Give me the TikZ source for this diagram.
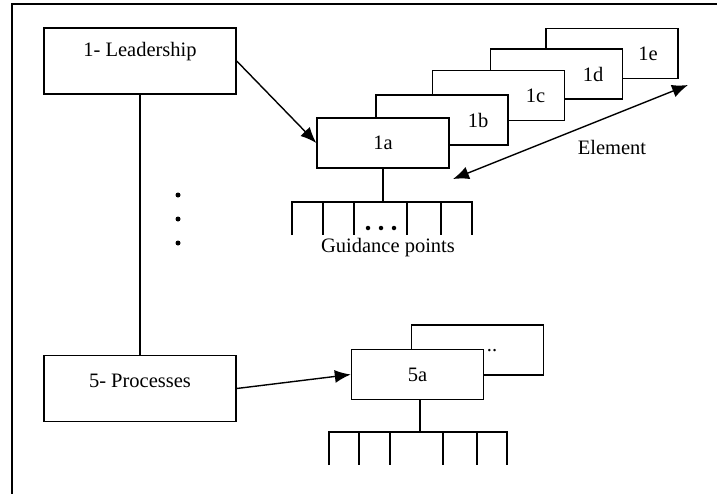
\documentclass[tikz,border=0pt]{standalone}
\usepackage{fontspec}
\setmainfont{Liberation Serif}
\usetikzlibrary{arrows.meta}

\tikzstyle{criterion}=[draw,line width=1.4pt,rectangle,minimum width=192pt,minimum height=66pt,inner sep=0pt]
\tikzstyle{element}=[draw,fill=white,line width=1.4pt,rectangle,minimum width=132pt,minimum height=50pt,inner sep=0pt]
\tikzstyle{link}=[line width=1.4pt]
\tikzstyle{arrow}=[line width=1.4pt,-{Latex[length=16pt,width=13pt]}]
\tikzstyle{dot}=[fill=black,circle,inner sep=0pt,minimum size=5pt]

\begin{document}
\begin{tikzpicture}[x=1pt,y=-1pt,font=\fontsize{20.5}{24}\selectfont]
\useasboundingbox (0,0) rectangle (717,493);
\clip (0,0) rectangle (717,493);

% outer frame
\draw[link] (12,4) rectangle (740,520);

% criteria
\node[criterion,label={[yshift=9pt]center:1- Leadership}] (leadership) at (140,61) {};
\node[criterion,label={[yshift=8pt]center:5- Processes}] (processes) at (140,388.5) {};
\draw[link] (leadership) -- (processes);

% dots between the criteria
\node[dot] (dot-1) at (178,195) {};
\node[dot] (dot-2) at (178,219) {};
\node[dot] (dot-3) at (178,243) {};

% elements of criterion 1, back to front
\node[element,label={[xshift=36pt]center:1e}] (element-1e) at (612,53.5) {};
\node[element,label={[xshift=36.5pt]center:1d}] (element-1d) at (556.5,74) {};
\node[element,label={[xshift=37pt]center:1c}] (element-1c) at (498.5,95.5) {};
\node[element,label={[xshift=36pt]center:1b}] (element-1b) at (442,120) {};
\node[element] (element-1a) at (383,143) {1a};

\draw[arrow] (leadership.east) -- (element-1a.west);

% span of the elements
\coordinate (element-near) at (453,179);
\coordinate (element-far) at (688,85);
\draw[link,{Latex[length=16pt,width=13pt]}-{Latex[length=16pt,width=13pt]}] (element-near) -- (element-far);
\node (element-label) at (612,147) {Element};

% guidance points of 1a
\coordinate (guidance-1a) at (383,202);
\draw[link] (element-1a.south) -- (guidance-1a);
\draw[link] (292,235) -- (292,202) -- (472,202) -- (472,235);
\draw[link] (323,202) -- (323,235);
\draw[link] (354,202) -- (354,235);
\draw[link] (407,202) -- (407,235);
\draw[link] (441,202) -- (441,235);
\node[dot,minimum size=4.5pt] (more-1) at (368,228) {};
\node[dot,minimum size=4.5pt] (more-2) at (381,228) {};
\node[dot,minimum size=4.5pt] (more-3) at (394,228) {};
\node (guidance-label) at (388,248) {Guidance points};

% elements of criterion 5
\node[element] (element-5b) at (477.5,350) {};
\node[element] (element-5a) at (417.5,374.5) {5a};
\node (element-5-more) at (492,351) {..};

\draw[arrow] (processes.east) -- (element-5a.west);

% guidance points of 5a
\coordinate (guidance-5a) at (420,432);
\draw[link] (guidance-5a |- element-5a.south) -- (guidance-5a);
\draw[link] (329,465) -- (329,432) -- (507,432) -- (507,465);
\draw[link] (359,432) -- (359,465);
\draw[link] (390,432) -- (390,465);
\draw[link] (443,432) -- (443,465);
\draw[link] (477,432) -- (477,465);

\end{tikzpicture}
\end{document}
